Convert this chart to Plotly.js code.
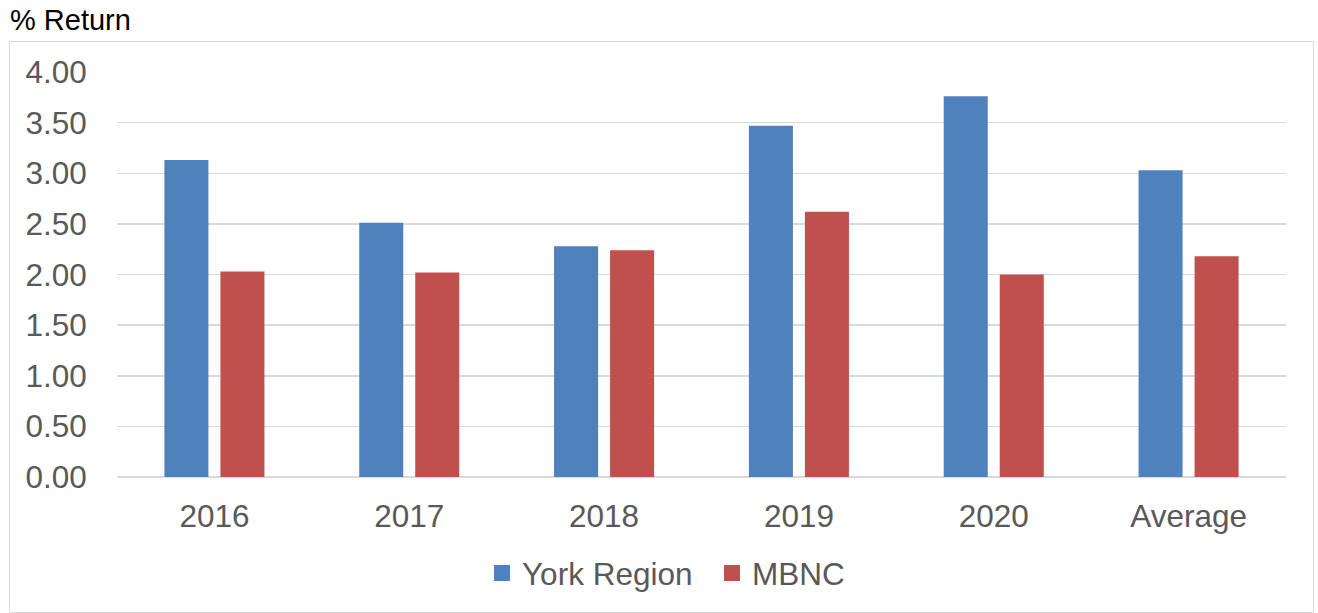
<!DOCTYPE html>
<html>
<head>
<meta charset="utf-8">
<script src="https://cdn.plot.ly/plotly-3.0.1.min.js"></script>
<style>html,body{margin:0;padding:0;background:#fff;}#chart{width:1318px;height:613px;}</style>
</head>
<body>
<div id="chart"></div>
<script>
const categories = ["2016", "2017", "2018", "2019", "2020", "Average"];
const yorkRegion = [3.13, 2.51, 2.28, 3.47, 3.76, 3.03];
const mbnc = [2.03, 2.02, 2.24, 2.62, 2.00, 2.18];
const seriesNames = ["York Region", "MBNC"];
const seriesColors = ["#4F81BD", "#C0504D"];
const yTicks = [0, 0.5, 1, 1.5, 2, 2.5, 3, 3.5, 4];

const font = "Arial, 'Liberation Sans', sans-serif";
const W = 1318, H = 613;
const m = {l: 117, r: 32, t: 72, b: 136};
const pw = W - m.l - m.r, ph = H - m.t - m.b;
const px = v => (v - m.l) / pw;
const py = v => (H - m.b - v) / ph;

const series = [yorkRegion, mbnc];
const data = [];
series.forEach((vals, i) => {
  data.push({type: "bar", name: seriesNames[i], x: categories, y: vals,
    marker: {color: seriesColors[i], line: {width: 0}}, hoverinfo: "skip",
    showlegend: false, legendgroup: "g" + i});
});
// legend entries with larger square swatches
series.forEach((vals, i) => {
  data.push({type: "scatter", mode: "markers", name: seriesNames[i],
    x: [null], y: [null], legendgroup: "g" + i,
    marker: {symbol: "square", size: 16, color: seriesColors[i]},
    hoverinfo: "skip", showlegend: true});
});

const layout = {
  width: W, height: H,
  margin: m,
  paper_bgcolor: "#fff", plot_bgcolor: "#fff",
  font: {family: font, color: "#595959", size: 31.5},
  barmode: "group",
  bargap: 0.425,
  bargroupgap: 0.214,
  showlegend: true,
  legend: {
    orientation: "h", xref: "container", yref: "container",
    x: 482 / W, xanchor: "left", y: 1 - 573 / H, yanchor: "middle",
    entrywidth: 185, entrywidthmode: "pixels",
    font: {family: font, size: 31.5, color: "#595959"},
    itemclick: false, itemdoubleclick: false, traceorder: "normal"
  },
  title: {
    text: "% Return", xref: "container", yref: "container",
    x: 10 / W, xanchor: "left", y: 1 - 20 / H, yanchor: "middle",
    font: {family: font, size: 29, color: "#000"}
  },
  xaxis: {
    type: "category", showgrid: false, zeroline: false, showline: false,
    ticks: "outside", ticklen: 11, tickcolor: "rgba(0,0,0,0)",
    tickfont: {family: font, size: 31.5, color: "#595959"}, fixedrange: true
  },
  yaxis: {
    range: [0, 4], tickvals: yTicks, tickformat: ".2f",
    showgrid: true, gridcolor: "#D9D9D9", gridwidth: 1.5,
    zeroline: true, zerolinecolor: "#D9D9D9", zerolinewidth: 1.5,
    showline: false,
    ticks: "outside", ticklen: 23, tickcolor: "rgba(0,0,0,0)",
    tickfont: {family: font, size: 31.5, color: "#595959"}, fixedrange: true
  },
  shapes: [{
    type: "rect", xref: "paper", yref: "paper",
    x0: px(9.5), x1: px(1313.5), y0: py(612.5), y1: py(41.5),
    line: {color: "#D9D9D9", width: 1}, fillcolor: "rgba(0,0,0,0)", layer: "below"
  }]
};

Plotly.newPlot("chart", data, layout, {displayModeBar: false, staticPlot: true});
</script>
</body>
</html>
